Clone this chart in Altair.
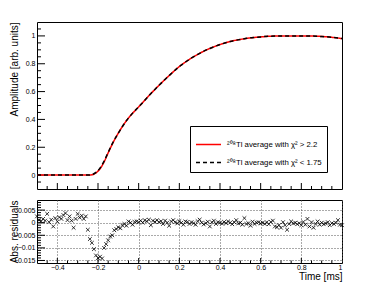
import altair as alt
import pandas as pd

# ---------------- data ----------------
LAB_RED = "²⁰⁸Tl average with χ² > 2.2"
LAB_BLK = "²⁰⁸Tl average with χ² < 1.75"

curve_t = [-0.50, -0.45, -0.40, -0.35, -0.30, -0.25, -0.23, -0.21, -0.19, -0.17,
           -0.15, -0.125, -0.10, -0.075, -0.05, -0.025, 0.0, 0.05, 0.10, 0.15,
           0.20, 0.25, 0.30, 0.35, 0.40, 0.45, 0.50, 0.55, 0.60, 0.65,
           0.70, 0.75, 0.80, 0.85, 0.90, 0.95, 1.00]
curve_red = [0.0, 0.0, 0.0, 0.0, 0.0, 0.0, 0.002, 0.016, 0.045, 0.095,
             0.16, 0.236, 0.302, 0.36, 0.41, 0.452, 0.49, 0.57, 0.645, 0.715,
             0.78, 0.832, 0.875, 0.91, 0.938, 0.96, 0.975, 0.986, 0.993, 0.998,
             1.0, 1.0, 1.0, 0.999, 0.996, 0.99, 0.981]
curve_black = [0.0, 0.0, 0.0, 0.0, 0.0, 0.0, 0.004, 0.02, 0.05, 0.1,
               0.163, 0.238, 0.302, 0.36, 0.41, 0.452, 0.49, 0.57, 0.645, 0.715,
               0.78, 0.832, 0.875, 0.91, 0.938, 0.96, 0.975, 0.986, 0.993, 0.998,
               1.0, 1.0, 1.0, 0.999, 0.996, 0.99, 0.981]

res_t = [-0.50, -0.49, -0.48, -0.47, -0.46, -0.45, -0.44, -0.43, -0.42, -0.41,
         -0.40, -0.39, -0.38, -0.37, -0.36, -0.35, -0.34, -0.33, -0.32, -0.31,
         -0.30, -0.29, -0.28, -0.27, -0.26, -0.25, -0.24, -0.23, -0.22, -0.21,
         -0.20, -0.19, -0.18, -0.17, -0.16, -0.15, -0.14, -0.13, -0.12, -0.11,
         -0.10, -0.09, -0.08, -0.07, -0.06, -0.05, -0.04, -0.03, -0.02, -0.01,
         0.00, 0.01, 0.02, 0.03, 0.04, 0.05, 0.06, 0.07, 0.08, 0.09,
         0.10, 0.11, 0.12, 0.13, 0.14, 0.15, 0.16, 0.17, 0.18, 0.19,
         0.20, 0.21, 0.22, 0.23, 0.24, 0.25, 0.26, 0.27, 0.28, 0.29,
         0.30, 0.31, 0.32, 0.33, 0.34, 0.35, 0.36, 0.37, 0.38, 0.39,
         0.40, 0.41, 0.42, 0.43, 0.44, 0.45, 0.46, 0.47, 0.48, 0.49,
         0.50, 0.51, 0.52, 0.53, 0.54, 0.55, 0.56, 0.57, 0.58, 0.59,
         0.60, 0.61, 0.62, 0.63, 0.64, 0.65, 0.66, 0.67, 0.68, 0.69,
         0.70, 0.71, 0.72, 0.73, 0.74, 0.75, 0.76, 0.77, 0.78, 0.79,
         0.80, 0.81, 0.82, 0.83, 0.84, 0.85, 0.86, 0.87, 0.88, 0.89,
         0.90, 0.91, 0.92, 0.93, 0.94, 0.95, 0.96, 0.97, 0.98, 0.99,
         1.00]
res_v = [2.5, 1.0, 0.5, 1.5, 0.8, 3.5, 0.2, 1.2, -1.5, 1.8,
         0.5, 2.2, 1.5, 3.0, 3.8, 1.0, 2.5, 0.8, -2.0, 1.5,
         3.5, 2.0, 2.8, 1.5, 2.5, -2.8, -6.5, -8.0, -10.5, -13.0,
         -14.0, -13.5, -14.2, -10.0, -8.5, -7.0, -5.5, -5.0, -3.0, -2.5,
         -1.8, -2.2, -1.0, -0.5, -1.2, 0.5, 0.0, -0.8, 0.3, 0.5,
         0.2, 0.8, 0.0, 1.0, 0.5, 1.2, -1.0, 0.8, 0.3, 1.0,
         0.2, 0.6, -0.5, 0.8, 0.0, -1.2, 0.5, 1.0, 0.2, -0.3,
         0.6, 0.0, -0.8, 0.5, 0.3, -0.5, 0.2, -0.2, -0.8, 0.6,
         1.2, 0.0, -0.7, -0.2, 0.4, -1.5, 0.2, 0.8, -0.5, 0.2,
         0.0, -0.4, 0.3, -0.2, 0.5, 0.0, -0.6, 0.2, 1.0, -0.3,
         0.0, -0.8, 1.8, -0.5, -0.2, -1.2, 0.4, -0.5, 0.0, 0.2,
         -0.3, 0.0, -0.5, 0.2, -0.6, 0.3, 0.8, -1.5, -1.8, -1.0,
         -2.0, 0.2, -1.0, -2.8, -0.5, 0.5, -0.3, 0.0, -0.6, -0.2,
         -1.0, 0.3, -0.8, 1.5, -1.5, 0.2, -2.0, -0.5, 0.5, -0.8,
         0.0, -0.6, -0.3, 0.2, -1.0, -0.2, -0.5, 0.0, 1.0, -0.8,
         -1.0]

# axis tick positions
x_major = [-0.4, -0.2, 0.0, 0.2, 0.4, 0.6, 0.8]
x_minor = [-0.45, -0.35, -0.3, -0.25, -0.15, -0.1, -0.05, 0.05, 0.1, 0.15,
           0.25, 0.3, 0.35, 0.45, 0.5, 0.55, 0.65, 0.7, 0.75, 0.85, 0.9, 0.95]
x_labels = [-0.4, -0.2, 0.0, 0.2, 0.4, 0.6, 0.8, 1.0]
top_y_major = [0.0, 0.2, 0.4, 0.6, 0.8, 1.0]
top_y_minor = [-0.05, 0.05, 0.1, 0.15, 0.25, 0.3, 0.35, 0.45, 0.5, 0.55,
               0.65, 0.7, 0.75, 0.85, 0.9, 0.95, 1.05]
bot_y_major = [0.005, 0.0, -0.005, -0.01, -0.015]
bot_y_minor = [0.008, 0.007, 0.006, 0.004, 0.003, 0.002, 0.001, -0.001, -0.002,
               -0.003, -0.004, -0.006, -0.007, -0.008, -0.009, -0.011, -0.012,
               -0.013, -0.014]

# ---------------- tables ----------------
red_df = pd.DataFrame({"t": curve_t, "a": curve_red, "s": LAB_RED})
blk_df = pd.DataFrame({"t": curve_t, "a": curve_black, "s": LAB_BLK})
res_df = pd.DataFrame({"t": res_t, "r": [v / 1000.0 for v in res_v]})

W = 305
H_TOP = 167
H_BOT = 63

xs = alt.Scale(domain=[-0.5, 1.0], nice=False, zero=False)
ys_top = alt.Scale(domain=[-0.1, 1.1], nice=False, zero=False)
ys_bot = alt.Scale(domain=[-0.016, 0.009], nice=False, zero=False)

y_top_axis = alt.Axis(values=top_y_major, format="~g", title="Amplitude [arb. units]",
                      titleAnchor="end", grid=False, minExtent=19, maxExtent=19,
                      titlePadding=-1)
y_bot_axis = alt.Axis(values=bot_y_major, format="~g", title="Abs. residuals",
                      titleAnchor="end", grid=True, minExtent=19, maxExtent=19,
                      titlePadding=-1)
x_bot_axis = alt.Axis(values=x_labels, format="~g", title="Time [ms]",
                      titleAnchor="end", grid=True, labelPadding=0, titlePadding=1)


def xticks(vals, h, length, axis=None):
    return alt.Chart(pd.DataFrame({"v": vals})).mark_rule(color="black", strokeWidth=1).encode(
        x=alt.X("v:Q", scale=xs, axis=axis), y=alt.value(h), y2=alt.value(h - length))


def yticks(vals, scale, axis, length):
    return alt.Chart(pd.DataFrame({"v": vals})).mark_rule(color="black", strokeWidth=1).encode(
        y=alt.Y("v:Q", scale=scale, axis=axis), x=alt.value(0), x2=alt.value(length))


leg = alt.Legend(orient="none", legendX=153, legendY=104, title=None,
                 fillColor="white", strokeColor="black", padding=5,
                 symbolType="stroke", symbolSize=625, symbolStrokeWidth=1.5,
                 labelFontSize=7.8, labelFont="Liberation Sans", labelColor="black",
                 rowPadding=0, labelLimit=0, labelOffset=5)
color = alt.Color("s:N", scale=alt.Scale(domain=[LAB_RED, LAB_BLK], range=["#ff0000", "#000000"]),
                  legend=leg)
dash = alt.StrokeDash("s:N", scale=alt.Scale(domain=[LAB_RED, LAB_BLK], range=[[1, 0], [4, 3]]),
                      legend=leg)

red_line = alt.Chart(red_df).mark_line(strokeWidth=1.5, interpolate="monotone").encode(
    x=alt.X("t:Q", scale=xs, axis=None),
    y=alt.Y("a:Q", scale=ys_top, axis=y_top_axis),
    color=color, strokeDash=dash)
blk_line = alt.Chart(blk_df).mark_line(strokeWidth=1.5, interpolate="monotone").encode(
    x=alt.X("t:Q", scale=xs, axis=None),
    y=alt.Y("a:Q", scale=ys_top, axis=y_top_axis),
    color=color, strokeDash=dash)

top = alt.layer(
    yticks(top_y_major, ys_top, y_top_axis, 8),
    yticks(top_y_minor, ys_top, y_top_axis, 4),
    xticks(x_major, H_TOP, 6),
    xticks(x_minor, H_TOP, 3),
    red_line, blk_line,
).properties(width=W, height=H_TOP)

points = alt.Chart(res_df).mark_point(shape="M-1,-1L1,1M-1,1L1,-1", filled=False, size=14,
                                      strokeWidth=0.8, color="black", opacity=1).encode(
    x=alt.X("t:Q", scale=xs, axis=x_bot_axis),
    y=alt.Y("r:Q", scale=ys_bot, axis=y_bot_axis))

bottom = alt.layer(
    yticks(bot_y_major, ys_bot, y_bot_axis, 8),
    yticks(bot_y_minor, ys_bot, y_bot_axis, 4),
    xticks(x_major, H_BOT, 5, x_bot_axis),
    xticks(x_minor, H_BOT, 2.5, x_bot_axis),
    points,
).properties(width=W, height=H_BOT)

chart = alt.vconcat(top, bottom, spacing=9).properties(
    padding={"left": 0, "top": 13, "right": 0, "bottom": 0},
    background="white",
).configure_view(stroke="black", strokeWidth=1).configure_axis(
    labelFont="Liberation Sans", labelFontSize=7, labelColor="black", labelPadding=2,
    titleFont="Liberation Sans", titleFontSize=10, titleFontWeight="normal", titleColor="black",
    ticks=False, domain=False, gridColor="#555555", gridDash=[1, 2], gridWidth=1, gridOpacity=1,
)

chart.save("out.html", embed_options={"renderer": "svg", "actions": False})
